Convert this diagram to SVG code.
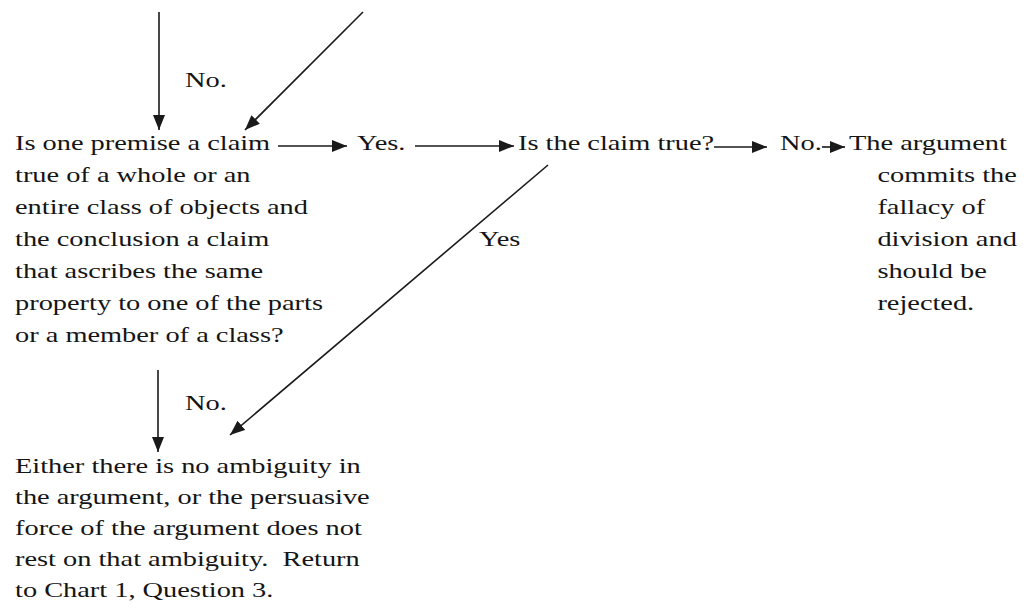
<svg xmlns="http://www.w3.org/2000/svg" width="1031" height="614" viewBox="0 0 1031 614">
<style>
.t{font-family:"Liberation Serif","Times New Roman",serif;font-size:22px;fill:#151515;white-space:pre}
.c line{stroke:#1a1a1a;stroke-width:1.6;fill:none}
</style>
<defs>
<marker id="ah" markerUnits="userSpaceOnUse" markerWidth="16" markerHeight="12" refX="15" refY="6" orient="auto">
<path d="M0,0 L15,6 L0,12 z" fill="#1a1a1a"/>
</marker>
</defs>
<rect width="1031" height="614" fill="#fff"/>
<g class="c" id="connectors">
<line x1="159" y1="12" x2="159" y2="130" marker-end="url(#ah)"/>
<line x1="363" y1="12" x2="245" y2="130" marker-end="url(#ah)"/>
<line x1="278" y1="146" x2="347" y2="146" marker-end="url(#ah)"/>
<line x1="415" y1="146" x2="514" y2="146" marker-end="url(#ah)"/>
<line x1="714" y1="147" x2="767" y2="147" marker-end="url(#ah)"/>
<line x1="822" y1="147" x2="845" y2="147" marker-end="url(#ah)"/>
<line x1="548" y1="165" x2="230" y2="435" marker-end="url(#ah)"/>
<line x1="158" y1="370" x2="158" y2="452" marker-end="url(#ah)"/>
</g>
<g id="label-no-top" transform="translate(185 0) scale(1.29 1)"><text class="t" x="0" y="87">No.</text></g>
<g id="q1" transform="translate(15 0) scale(1.29 1)">
<text class="t"><tspan x="0" y="150">Is one premise a claim</tspan><tspan x="0" y="182">true of a whole or an</tspan><tspan x="0" y="214">entire class of objects and</tspan><tspan x="0" y="246">the conclusion a claim</tspan><tspan x="0" y="278">that ascribes the same</tspan><tspan x="0" y="310">property to one of the parts</tspan><tspan x="0" y="342">or a member of a class?</tspan></text>
</g>
<g id="yes1" transform="translate(357 0) scale(1.29 1)"><text class="t" x="0" y="150">Yes.</text></g>
<g id="q2" transform="translate(518 0) scale(1.29 1)"><text class="t" x="0" y="150">Is the claim true?</text></g>
<g id="no2" transform="translate(780 0) scale(1.29 1)"><text class="t" x="0" y="150">No.</text></g>
<g id="fallacy" transform="translate(849 0) scale(1.29 1)">
<text class="t"><tspan x="0" y="150">The argument</tspan><tspan x="22" y="182">commits the</tspan><tspan x="22" y="214">fallacy of</tspan><tspan x="22" y="246">division and</tspan><tspan x="22" y="278">should be</tspan><tspan x="22" y="310">rejected.</tspan></text>
</g>
<g id="label-yes-diag" transform="translate(479 0) scale(1.29 1)"><text class="t" x="0" y="246">Yes</text></g>
<g id="label-no-bottom" transform="translate(185 0) scale(1.29 1)"><text class="t" x="0" y="410">No.</text></g>
<g id="result" transform="translate(15 0) scale(1.29 1)">
<text class="t"><tspan x="0" y="473">Either there is no ambiguity in</tspan><tspan x="0" y="504">the argument, or the persuasive</tspan><tspan x="0" y="535">force of the argument does not</tspan><tspan x="0" y="566">rest on that ambiguity.  Return</tspan><tspan x="0" y="597">to Chart 1, Question 3.</tspan></text>
</g>
</svg>
